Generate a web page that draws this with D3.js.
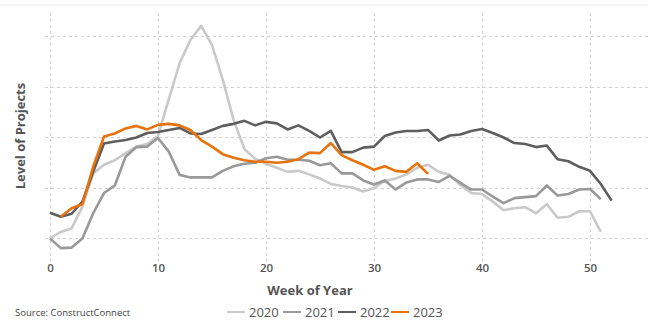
<!DOCTYPE html>
<html>
<head>
<meta charset="utf-8">
<script src="https://cdn.jsdelivr.net/npm/d3@7"></script>
<style>
  html, body { margin: 0; padding: 0; background: #fff; }
  svg { display: block; font-family: "Open Sans", "Noto Sans", sans-serif; }
</style>
</head>
<body>
<svg id="chart" width="648" height="320"></svg>
<script>
// Weekly level of projects, one array per year
const weeks2020 = d3.range(0, 52);
const weeks2021 = d3.range(0, 52);
const weeks2022 = d3.range(0, 53);
const weeks2023 = d3.range(1, 36);

const values2020 = [99, 112, 119, 162, 228, 245, 254, 268, 281, 286, 302, 375, 446, 492, 520, 482, 413, 334, 276, 257,
  247, 239, 231, 233, 226, 218, 207, 203, 200, 192, 199, 213, 218, 226, 239, 245, 231, 225, 205, 189,
  187, 172, 155, 159, 161, 149, 167, 140, 142, 153, 153, 112];
const values2021 = [99, 80, 81, 99, 149, 189, 204, 261, 280, 281, 298, 271, 225, 220, 220, 220, 233, 242, 247, 249,
  258, 261, 255, 255, 253, 244, 248, 228, 228, 214, 206, 214, 196, 210, 216, 216, 211, 223, 209, 196,
  196, 182, 169, 179, 181, 183, 204, 184, 187, 196, 197, 177];
const values2022 = [150, 142, 148, 172, 231, 287, 291, 294, 299, 308, 310, 314, 318, 307, 306, 314, 322, 326, 332, 323,
  330, 327, 315, 323, 312, 299, 312, 270, 270, 279, 281, 302, 309, 312, 312, 314, 293, 303, 305, 312,
  316, 308, 299, 288, 286, 280, 283, 256, 252, 241, 233, 207, 174];
const values2023 = [142, 159, 167, 241, 301, 307, 317, 322, 315, 324, 326, 323, 314, 294, 281, 266, 259, 254, 251, 251,
  249, 251, 256, 269, 268, 288, 264, 254, 245, 235, 242, 233, 231, 248, 227];

const seriesNames = ["2020", "2021", "2022", "2023"];
const seriesColors = ["#c9c9c9", "#999999", "#5e5e5e", "#e8730c"];
const xTicks = [0, 10, 20, 30, 40, 50];
const yGridValues = [100, 200, 300, 400, 500];

const series = [
  { name: seriesNames[0], weeks: weeks2020, values: values2020, color: seriesColors[0] },
  { name: seriesNames[1], weeks: weeks2021, values: values2021, color: seriesColors[1] },
  { name: seriesNames[2], weeks: weeks2022, values: values2022, color: seriesColors[2] },
  { name: seriesNames[3], weeks: weeks2023, values: values2023, color: seriesColors[3] }
];

const svg = d3.select("#chart");

const x = d3.scaleLinear().domain([0, 50]).range([50, 590]);
const y = d3.scaleLinear().domain([100, 500]).range([238, 36]);

// thin rule under the (cropped) heading
svg.append("line")
  .attr("x1", 0).attr("x2", 648).attr("y1", 5).attr("y2", 5)
  .attr("stroke", "#e8e8e8").attr("stroke-width", 1);

// dotted grid
const grid = svg.append("g").attr("stroke", "#d2d2d2").attr("stroke-width", 1)
  .attr("stroke-dasharray", "3,3");
grid.selectAll(".hg").data(yGridValues).join("line")
  .attr("x1", 45).attr("x2", 648)
  .attr("y1", d => Math.round(y(d)) + 0.5).attr("y2", d => Math.round(y(d)) + 0.5);
grid.selectAll(".vg").data(xTicks).join("line")
  .attr("y1", 13).attr("y2", 262)
  .attr("x1", d => Math.round(x(d)) + 0.5).attr("x2", d => Math.round(x(d)) + 0.5);

// x axis tick labels
const xAxis = d3.axisBottom(x).tickValues(xTicks).tickSize(0).tickPadding(0);
const gx = svg.append("g").attr("transform", "translate(0,264)").call(xAxis);
gx.select(".domain").remove();
gx.selectAll("text")
  .attr("dy", "0.71em")
  .attr("fill", "#555")
  .attr("font-size", 11.5)
  .attr("font-weight", 600)
  .attr("font-family", "'Open Sans', sans-serif");

// lines
const line = d3.line()
  .x(d => x(d[0]))
  .y(d => y(d[1]));

svg.append("g").selectAll("path").data(series).join("path")
  .attr("d", s => line(s.weeks.map((w, i) => [w, s.values[i]])))
  .attr("fill", "none")
  .attr("stroke", s => s.color)
  .attr("stroke-width", 2.6)
  .attr("stroke-linejoin", "round")
  .attr("stroke-linecap", "butt");

// axis titles
svg.append("text")
  .attr("x", 310).attr("y", 295)
  .attr("text-anchor", "middle")
  .attr("fill", "#555")
  .attr("font-size", 13)
  .attr("font-weight", 700)
  .text("Week of Year");

svg.append("text")
  .attr("transform", "translate(25,136) rotate(-90)")
  .attr("text-anchor", "middle")
  .attr("fill", "#555")
  .attr("font-size", 13)
  .attr("font-weight", 700)
  .text("Level of Projects");

// source note
svg.append("text")
  .attr("x", 15).attr("y", 316)
  .attr("fill", "#444")
  .attr("font-size", 9.5)
  .text("Source: ConstructConnect");

// legend
const legend = svg.append("g").attr("transform", "translate(227,312)");
const itemX = [0, 56, 111, 164];
const items = legend.selectAll("g").data(series).join("g")
  .attr("transform", (d, i) => `translate(${itemX[i]},0)`);
items.append("line")
  .attr("x1", 0).attr("x2", 18).attr("y1", 0).attr("y2", 0)
  .attr("stroke", d => d.color).attr("stroke-width", 2);
items.append("text")
  .attr("x", 22).attr("y", 0).attr("dy", "0.35em")
  .attr("fill", "#555")
  .attr("font-size", 13)
  .text(d => d.name);
</script>
</body>
</html>
